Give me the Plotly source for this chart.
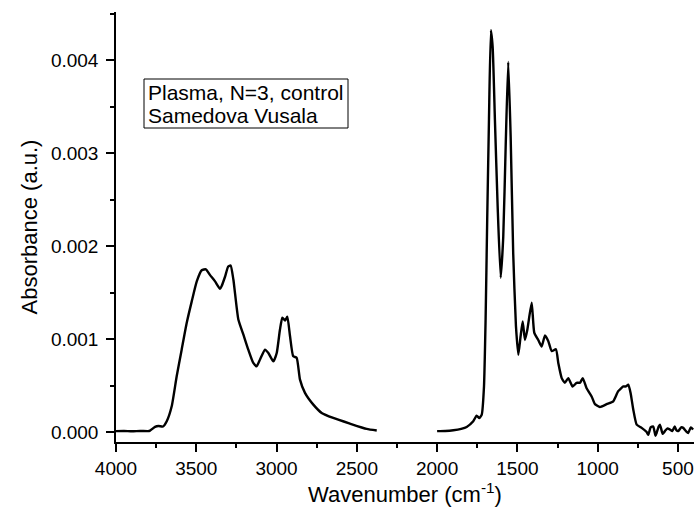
import plotly.graph_objects as go

# --- data ---
wn_left = [4000, 3950, 3900, 3850, 3800, 3788, 3757, 3735, 3707, 3684, 3653, 3622, 3591, 3560,
           3529, 3497, 3466, 3440, 3415, 3383, 3352, 3342, 3321, 3301, 3286, 3269, 3238, 3207,
           3176, 3145, 3124, 3103, 3072, 3051, 3020, 2999, 2979, 2964, 2947, 2933, 2916, 2896,
           2875, 2854, 2823, 2771, 2719, 2647, 2543, 2439, 2376]
abs_left = [0.000010, 0.000012, 0.000008, 0.000012, 0.000010, 0.000016, 0.000055, 0.000065,
            0.000060, 0.000116, 0.000277, 0.000600, 0.000886, 0.001170, 0.001400, 0.001620,
            0.001740, 0.001750, 0.001690, 0.001620, 0.001540, 0.001570, 0.001670, 0.001780,
            0.001790, 0.001640, 0.001210, 0.001050, 0.000886, 0.000743, 0.000707, 0.000780,
            0.000886, 0.000850, 0.000760, 0.000850, 0.001100, 0.001230, 0.001200, 0.001240,
            0.001030, 0.000814, 0.000800, 0.000564, 0.000421, 0.000295, 0.000206, 0.000152,
            0.000091, 0.000034, 0.000016]

wn_right = [2000, 1950, 1899, 1850, 1816, 1775, 1754, 1737, 1722, 1708, 1698, 1688, 1677, 1665,
            1654, 1640, 1623, 1604, 1588, 1573, 1557, 1542, 1526, 1509, 1494, 1480, 1467, 1453,
            1438, 1411, 1395, 1370, 1349, 1328, 1308, 1286, 1260, 1245, 1224, 1204, 1183, 1156,
            1131, 1110, 1093, 1069, 1037, 1017, 986, 944, 903, 872, 840, 824, 809, 795, 778,
            757, 726, 695, 685, 670, 654, 640, 633, 620, 612, 595, 581, 565, 550, 535, 520,
            510, 498, 480, 467, 450, 436, 420, 405]
abs_right = [0.000010, 0.000012, 0.000020, 0.000035, 0.000055, 0.000116, 0.000177, 0.000150,
             0.000188, 0.000490, 0.001210, 0.002280, 0.003360, 0.004320, 0.004140, 0.003360,
             0.002430, 0.001660, 0.002100, 0.003070, 0.003980, 0.003180, 0.001920, 0.001140,
             0.000830, 0.001030, 0.001190, 0.000990, 0.001100, 0.001390, 0.001070, 0.000990,
             0.000920, 0.001040, 0.000980, 0.000870, 0.000890, 0.000740, 0.000580, 0.000530,
             0.000580, 0.000490, 0.000530, 0.000530, 0.000580, 0.000470, 0.000380, 0.000300,
             0.000270, 0.000300, 0.000330, 0.000440, 0.000490, 0.000490, 0.000510, 0.000420,
             0.000240, 0.000080, 0.000045, 0.000000, -0.000030, 0.000050, 0.000060, -0.000040,
             -0.000010, 0.000060, 0.000080, -0.000020, 0.000010, 0.000040, 0.000027, 0.000010,
             0.000060, 0.000020, 0.000010, 0.000050, 0.000045, 0.000010, -0.000010, 0.000050,
             0.000027]

x_ticks = [4000, 3500, 3000, 2500, 2000, 1500, 1000, 500]
y_ticks = [0.000, 0.001, 0.002, 0.003, 0.004]
box_lines = ["Plasma, N=3, control", "Samedova Vusala"]

FONT = "Liberation Sans, Arial, sans-serif"
W, H = 695, 515
ML, MR, MT, MB = 116, 1, 12, 73
PW, PH = W - ML - MR, H - MT - MB


def px_x(p):
    return (p - ML) / PW


def px_y(p):
    return (H - MB - p) / PH


fig = go.Figure()
for xs, ys in [(wn_left, abs_left), (wn_right, abs_right)]:
    fig.add_trace(go.Scatter(x=xs, y=ys, mode="lines",
                             line=dict(color="black", width=2.4, shape="spline", smoothing=0.5),
                             showlegend=False, hoverinfo="skip"))

fig.update_layout(
    width=W, height=H,
    margin=dict(l=ML, r=MR, t=MT, b=MB, pad=0),
    paper_bgcolor="white", plot_bgcolor="white",
    font=dict(family=FONT, color="black", size=19),
    xaxis=dict(range=[4000, 400], tickvals=x_ticks, ticktext=[str(v) for v in x_ticks],
               ticks="outside", ticklen=8, tickwidth=1.5, tickcolor="black",
               showline=True, linecolor="black", linewidth=1.5, showgrid=False, zeroline=False,
               minor=dict(ticks="outside", ticklen=4, tickwidth=1.5, tickcolor="black", dtick=250,
                          tick0=0, showgrid=False),
               tickfont=dict(size=19),
               title=dict(text="Wavenumber (cm<sup>-1</sup>)", font=dict(size=22), standoff=8)),
    yaxis=dict(range=[-0.000107, 0.004517], tickvals=y_ticks,
               ticktext=[f"{v:.3f}" for v in y_ticks],
               ticks="outside", ticklen=8, tickwidth=1.5, tickcolor="black",
               showline=True, linecolor="black", linewidth=1.5, showgrid=False, zeroline=False,
               minor=dict(ticks="outside", ticklen=4, tickwidth=1.5, tickcolor="black", dtick=0.0005,
                          tick0=0, showgrid=False),
               tickfont=dict(size=19), ticklabelstandoff=4,
               title=dict(text="Absorbance (a.u.)", font=dict(size=22), standoff=7)),
)

# text box
fig.add_shape(type="rect", xref="paper", yref="paper",
              x0=px_x(144), x1=px_x(348), y0=px_y(128), y1=px_y(79),
              line=dict(color="black", width=1), fillcolor="rgba(0,0,0,0)")
for i, t in enumerate(box_lines):
    fig.add_annotation(xref="paper", yref="paper", x=px_x(146), y=px_y(92 + 23.3 * i),
                       xanchor="left", yanchor="middle", text=t, showarrow=False,
                       font=dict(size=21, family=FONT, color="black"))

fig.write_html("out.html")
